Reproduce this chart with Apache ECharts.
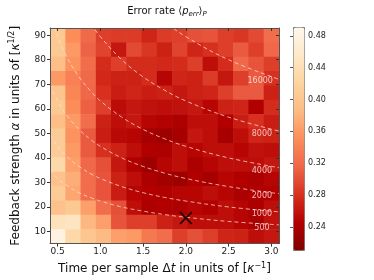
<!DOCTYPE html>
<html>
<head>
<meta charset="utf-8">
<script src="https://cdn.jsdelivr.net/npm/echarts@6/dist/echarts.min.js"></script>
<style>
html,body{margin:0;padding:0;background:#fff;}
#chart{width:374px;height:280px;}
</style>
</head>
<body>
<div id="chart"></div>
<script>
// Cell centres
const dtVals = [0.5, 0.679, 0.857, 1.036, 1.214, 1.393, 1.571, 1.75, 1.929, 2.107, 2.286, 2.464, 2.643, 2.821, 3.0];
const alphaVals = [8, 13.86, 19.71, 25.57, 31.43, 37.29, 43.14, 49, 54.86, 60.71, 66.57, 72.43, 78.29, 84.14, 90];

// Error rate, rows listed from top (alpha = 90) to bottom (alpha = 8), columns by dt
const errRows = [
  [0.405, 0.351, 0.320, 0.291, 0.288, 0.288, 0.273, 0.288, 0.291, 0.302, 0.305, 0.291, 0.285, 0.298, 0.323],
  [0.405, 0.360, 0.315, 0.294, 0.263, 0.298, 0.285, 0.270, 0.294, 0.273, 0.281, 0.291, 0.309, 0.291, 0.318],
  [0.390, 0.355, 0.323, 0.278, 0.291, 0.278, 0.278, 0.275, 0.278, 0.291, 0.256, 0.278, 0.318, 0.305, 0.291],
  [0.360, 0.340, 0.320, 0.275, 0.270, 0.270, 0.278, 0.250, 0.273, 0.270, 0.288, 0.263, 0.291, 0.309, 0.281],
  [0.400, 0.345, 0.318, 0.281, 0.267, 0.273, 0.267, 0.270, 0.263, 0.270, 0.273, 0.291, 0.309, 0.309, 0.270],
  [0.405, 0.350, 0.313, 0.291, 0.255, 0.263, 0.259, 0.256, 0.259, 0.263, 0.250, 0.270, 0.273, 0.245, 0.278],
  [0.390, 0.360, 0.323, 0.270, 0.256, 0.263, 0.250, 0.247, 0.242, 0.256, 0.256, 0.245, 0.267, 0.281, 0.267],
  [0.410, 0.355, 0.309, 0.267, 0.252, 0.250, 0.237, 0.232, 0.237, 0.263, 0.256, 0.237, 0.256, 0.273, 0.270],
  [0.410, 0.360, 0.309, 0.281, 0.270, 0.256, 0.245, 0.242, 0.256, 0.250, 0.256, 0.256, 0.250, 0.259, 0.256],
  [0.430, 0.365, 0.318, 0.302, 0.263, 0.245, 0.232, 0.250, 0.256, 0.242, 0.250, 0.256, 0.256, 0.256, 0.263],
  [0.395, 0.376, 0.323, 0.305, 0.270, 0.256, 0.242, 0.235, 0.232, 0.245, 0.237, 0.250, 0.245, 0.242, 0.250],
  [0.410, 0.370, 0.323, 0.305, 0.267, 0.250, 0.245, 0.245, 0.250, 0.250, 0.256, 0.250, 0.242, 0.245, 0.245],
  [0.395, 0.405, 0.365, 0.323, 0.302, 0.256, 0.242, 0.245, 0.242, 0.250, 0.245, 0.256, 0.250, 0.242, 0.256],
  [0.445, 0.450, 0.383, 0.365, 0.305, 0.291, 0.291, 0.270, 0.263, 0.256, 0.256, 0.256, 0.250, 0.242, 0.259],
  [0.480, 0.430, 0.402, 0.386, 0.365, 0.360, 0.333, 0.323, 0.291, 0.302, 0.291, 0.273, 0.270, 0.256, 0.263]
];

// Iso-lines (alpha^2 * dt = N)
const curveDt = [0.41, 0.5, 0.6, 0.75, 0.9, 1.0, 1.25, 1.5, 1.75, 2.0, 2.5, 3.09];
const curve500   = [34.9, 31.6, 28.9, 25.8, 23.6, 22.4, 20.0, 18.3, 16.9, 15.8, 14.1, 12.7];
const curve1000  = [49.4, 44.7, 40.8, 36.5, 33.3, 31.6, 28.3, 25.8, 23.9, 22.4, 20.0, 18.0];
const curve2000  = [69.8, 63.2, 57.7, 51.6, 47.1, 44.7, 40.0, 36.5, 33.8, 31.6, 28.3, 25.4];
const curve4000  = [98.8, 89.4, 81.6, 73.0, 66.7, 63.2, 56.6, 51.6, 47.8, 44.7, 40.0, 36.0];
const curve8000  = [139.7, 126.5, 115.5, 103.3, 94.3, 89.4, 80.0, 73.0, 67.6, 63.2, 56.6, 50.9];
const curve16000 = [197.5, 178.9, 163.3, 146.1, 133.3, 126.5, 113.1, 103.3, 95.6, 89.4, 80.0, 72.0];
const curveNames = ['500', '1000', '2000', '4000', '8000', '16000'];
const curveLabelPos = [[2.89, 11.6], [2.89, 17.0], [2.89, 24.5], [2.89, 34.6], [2.89, 49.9], [2.87, 71.4]];

// Marked optimum
const markerPos = [[2.0, 15.5]];

// Tick labels
const xTicks = [0.5, 1.0, 1.5, 2.0, 2.5, 3.0];
const yTicks = [10, 20, 30, 40, 50, 60, 70, 80, 90];
const cbTicks = [0.24, 0.28, 0.32, 0.36, 0.40, 0.44, 0.48];

const orRd = ['#7f0000', '#b30000', '#d7301f', '#ef6548', '#fc8d59', '#fdbb84', '#fdd49e', '#fee8c8', '#fff7ec'];

const dtStep = dtVals[1] - dtVals[0];
const alphaStep = alphaVals[1] - alphaVals[0];
const heatData = [];
errRows.forEach((row, r) => {
  const a = alphaVals[alphaVals.length - 1 - r];
  row.forEach((v, c) => heatData.push([dtVals[c], a, v]));
});

const xMin = dtVals[0] - dtStep / 2, xMax = dtVals[dtVals.length - 1] + dtStep / 2;
const yMin = alphaVals[0] - alphaStep / 2, yMax = alphaVals[alphaVals.length - 1] + alphaStep / 2;

const curves = [curve500, curve1000, curve2000, curve4000, curve8000, curve16000];
const lineSeries = curves.map((cv, k) => ({
  type: 'line', name: curveNames[k], xAxisIndex: 0, yAxisIndex: 0,
  data: curveDt.map((d, i) => [d, cv[i]]),
  showSymbol: false, smooth: 0.4, clip: true, silent: true, z: 3,
  lineStyle: { color: 'rgba(255,225,215,0.75)', width: 1, type: [4, 3] }
}));

const font = 'DejaVu Sans';
const chart = echarts.init(document.getElementById('chart'), null, { renderer: 'canvas' });
chart.setOption({
  animation: false,
  textStyle: { fontFamily: font },
  title: {
    text: 'Error rate ⟨{i|p}{sub|err}⟩{sub|P}',
    left: 162, textAlign: 'center', top: 0,
    textStyle: {
      fontFamily: font, fontSize: 10, fontWeight: 'normal', color: '#111',
      rich: {
        i: { fontFamily: font, fontStyle: 'italic', fontSize: 10, color: '#111' },
        sub: { fontFamily: font, fontStyle: 'italic', fontSize: 7, color: '#111', padding: [6, 0, 0, 0] }
      }
    }
  },
  grid: [
    { left: 46, top: 28, width: 233, height: 224 },
    { left: 293, top: 27, width: 11, height: 223 }
  ],
  xAxis: [
    {
      gridIndex: 0, type: 'value', min: xMin, max: xMax, position: 'bottom', z: 10,
      axisLine: { show: true, lineStyle: { color: '#555', width: 1 } },
      axisTick: { show: true, customValues: xTicks, length: 3, lineStyle: { color: '#333' } },
      axisLabel: { customValues: xTicks, formatter: v => v.toFixed(1), fontSize: 9, color: '#222', margin: 4, fontFamily: font },
      splitLine: { show: false },
      name: 'Time per sample Δ{i|t} in units of [{i|κ}{sup|−1}]',
      nameLocation: 'middle', nameGap: 15,
      nameTextStyle: {
        fontFamily: font, fontSize: 12, color: '#111',
        rich: {
          i: { fontFamily: font, fontStyle: 'italic', fontSize: 12, color: '#111' },
          sup: { fontFamily: font, fontSize: 8, color: '#111', padding: [0, 0, 7, 0] }
        }
      }
    },
    {
      gridIndex: 0, type: 'value', min: xMin, max: xMax, position: 'top', z: 10,
      axisLine: { show: true, lineStyle: { color: '#555', width: 1 } },
      axisTick: { show: true, inside: true, customValues: xTicks, length: 3, lineStyle: { color: '#333' } },
      axisLabel: { show: false }, splitLine: { show: false }
    },
    { gridIndex: 1, type: 'value', min: 0, max: 1, show: false }
  ],
  yAxis: [
    {
      gridIndex: 0, type: 'value', min: yMin, max: yMax, position: 'left', z: 10,
      axisLine: { show: true, lineStyle: { color: '#555', width: 1 } },
      axisTick: { show: true, customValues: yTicks, length: 3, lineStyle: { color: '#333' } },
      axisLabel: { customValues: yTicks, fontSize: 9, color: '#222', margin: 4, fontFamily: font },
      splitLine: { show: false },
      name: 'Feedback strength {i|α} in units of [{i|κ}{sup|1/2}]',
      nameLocation: 'middle', nameGap: 27, nameRotate: 90,
      nameTextStyle: {
        fontFamily: font, fontSize: 12, color: '#111',
        rich: {
          i: { fontFamily: font, fontStyle: 'italic', fontSize: 12, color: '#111' },
          sup: { fontFamily: font, fontSize: 8, color: '#111', padding: [0, 0, 7, 0] }
        }
      }
    },
    {
      gridIndex: 0, type: 'value', min: yMin, max: yMax, position: 'right', z: 10,
      axisLine: { show: true, lineStyle: { color: '#555', width: 1 } },
      axisTick: { show: true, inside: true, customValues: yTicks, length: 3, lineStyle: { color: '#333' } },
      axisLabel: { show: false }, splitLine: { show: false }
    },
    {
      gridIndex: 1, type: 'value', min: 0.211, max: 0.491, position: 'right', z: 10,
      axisLine: { show: false },
      axisTick: { show: true, inside: true, customValues: cbTicks, length: 3, lineStyle: { color: '#555' } },
      axisLabel: { customValues: cbTicks, formatter: v => v.toFixed(2), fontSize: 8, color: '#222', margin: 4, fontFamily: font },
      splitLine: { show: false }
    }
  ],
  visualMap: {
    type: 'continuous', seriesIndex: 0, dimension: 2,
    min: 0.211, max: 0.491, inRange: { color: orRd },
    left: 293, top: 27, itemWidth: 11, itemHeight: 223, padding: 0,
    calculable: false, text: null, showLabel: false, hoverLink: false,
    borderColor: '#777', borderWidth: 1
  },
  series: [
    {
      type: 'custom', xAxisIndex: 0, yAxisIndex: 0, data: heatData, clip: true, z: 1, silent: true,
      encode: { x: 0, y: 1 },
      renderItem: function (params, api) {
        const c = api.coord([api.value(0), api.value(1)]);
        const s = api.size([dtStep, alphaStep]);
        return {
          type: 'rect',
          shape: { x: c[0] - s[0] / 2, y: c[1] - s[1] / 2, width: s[0] + 0.6, height: s[1] + 0.6 },
          style: { fill: api.visual('color') }
        };
      }
    },
    ...lineSeries,
    {
      type: 'scatter', xAxisIndex: 0, yAxisIndex: 0, symbolSize: 0, silent: true, z: 4,
      data: curveLabelPos.map((p, k) => ({ value: p, name: curveNames[k] })),
      label: { show: true, position: 'inside', formatter: '{b}', fontSize: 8, color: 'rgba(255,255,255,0.9)', fontFamily: font }
    },
    {
      type: 'scatter', xAxisIndex: 0, yAxisIndex: 0, silent: true, z: 5,
      data: markerPos,
      symbol: 'path://M0,1.4L1.4,0L7,5.6L12.6,0L14,1.4L8.4,7L14,12.6L12.6,14L7,8.4L1.4,14L0,12.6L5.6,7Z',
      symbolSize: 13,
      itemStyle: { color: '#000' }
    }
  ]
});
</script>
</body>
</html>
